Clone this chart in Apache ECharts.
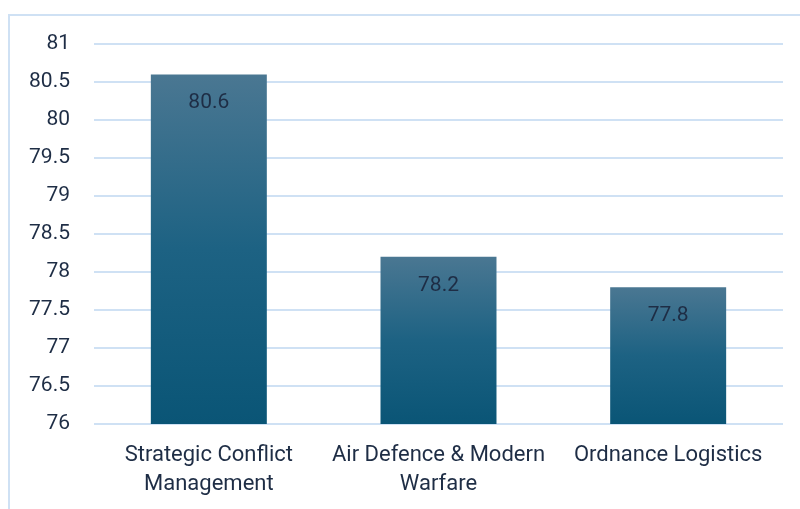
<!DOCTYPE html>
<html><head><meta charset="utf-8">
<script src="https://cdn.jsdelivr.net/npm/echarts@6/dist/echarts.min.js"></script>
<style>html,body{margin:0;padding:0;background:#fff}#c{width:800px;height:509px}</style>
</head><body><div id="c"></div>
<script>
const categories = ['Strategic Conflict\nManagement', 'Air Defence & Modern\nWarfare', 'Ordnance Logistics'];
const values = [80.6, 78.2, 77.8];
const yTicks = [76, 76.5, 77, 77.5, 78, 78.5, 79, 79.5, 80, 80.5, 81];

const chart = echarts.init(document.getElementById('c'), null, {renderer: 'canvas'});
const textColor = '#1e2d45';
const font = 'Roboto, "Liberation Sans", sans-serif';
chart.setOption({
  animation: false,
  graphic: [{type: 'rect', shape: {x: 9, y: 15, width: 900, height: 600}, style: {fill: 'none', stroke: '#cfe1f4', lineWidth: 2}}],
  grid: {left: 94, right: 17, top: 44, bottom: 85},
  xAxis: {
    type: 'category', data: categories,
    axisLine: {show: false}, axisTick: {show: false},
    axisLabel: {color: textColor, fontSize: 22, fontFamily: font, lineHeight: 29, margin: 17, interval: 0}
  },
  yAxis: {
    type: 'value', min: yTicks[0], max: yTicks[yTicks.length - 1], interval: 0.5,
    axisLine: {show: false}, axisTick: {show: false},
    axisLabel: {color: textColor, fontSize: 21, fontFamily: font, margin: 24},
    splitLine: {lineStyle: {color: '#cfe1f4', width: 2}}
  },
  series: [{
    type: 'bar', data: values, barWidth: '50.5%',
    itemStyle: {color: {type: 'linear', x: 0, y: 0, x2: 0, y2: 1, colorStops: [
      {offset: 0, color: '#4a7792'}, {offset: 0.5, color: '#1d6283'}, {offset: 1, color: '#0a5576'}]}},
    label: {show: true, position: 'insideTop', distance: 18, color: textColor, fontSize: 21, fontFamily: font}
  }]
});
</script></body></html>
